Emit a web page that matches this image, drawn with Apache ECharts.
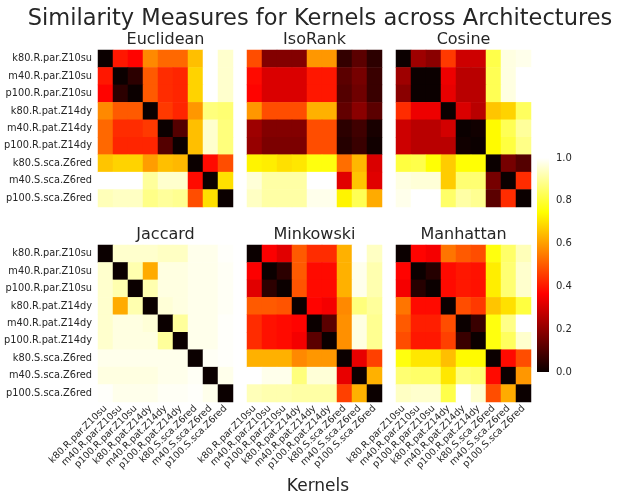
<!DOCTYPE html>
<html>
<head>
<meta charset="utf-8">
<script src="https://cdn.jsdelivr.net/npm/echarts@6/dist/echarts.min.js"></script>
<style>
  html, body { margin: 0; padding: 0; background: #fff; }
  #chart { width: 623px; height: 503px; }
</style>
</head>
<body>
<div id="chart"></div>
<script>
// kernel names, same order on both axes
const kernels = [
  'k80.R.par.Z10su', 'm40.R.par.Z10su', 'p100.R.par.Z10su',
  'k80.R.pat.Z14dy', 'm40.R.pat.Z14dy', 'p100.R.pat.Z14dy',
  'k80.S.sca.Z6red', 'm40.S.sca.Z6red', 'p100.S.sca.Z6red'
];

const euclidean = [
  [0.00, 0.40, 0.37, 0.57, 0.52, 0.52, 0.65, 1.00, 0.95],
  [0.40, 0.00, 0.05, 0.50, 0.43, 0.42, 0.68, 1.00, 0.95],
  [0.37, 0.05, 0.00, 0.50, 0.43, 0.42, 0.68, 1.00, 0.95],
  [0.57, 0.50, 0.50, 0.00, 0.45, 0.42, 0.59, 0.87, 0.86],
  [0.52, 0.43, 0.43, 0.45, 0.00, 0.11, 0.65, 0.95, 0.87],
  [0.52, 0.42, 0.42, 0.42, 0.11, 0.00, 0.65, 0.95, 0.87],
  [0.66, 0.68, 0.68, 0.60, 0.65, 0.64, 0.00, 0.38, 0.48],
  [1.00, 1.00, 1.00, 0.90, 0.95, 0.95, 0.38, 0.00, 0.70],
  [0.93, 0.94, 0.94, 0.88, 0.90, 0.89, 0.48, 0.70, 0.00]
];

const isoRank = [
  [0.48, 0.18, 0.18, 0.18, 0.59, 0.59, 0.06, 0.12, 0.05],
  [0.38, 0.31, 0.31, 0.31, 0.40, 0.40, 0.12, 0.16, 0.07],
  [0.37, 0.31, 0.31, 0.31, 0.40, 0.40, 0.11, 0.15, 0.07],
  [0.59, 0.48, 0.48, 0.48, 0.63, 0.63, 0.13, 0.19, 0.12],
  [0.22, 0.18, 0.18, 0.18, 0.48, 0.48, 0.05, 0.08, 0.02],
  [0.21, 0.17, 0.17, 0.17, 0.48, 0.48, 0.04, 0.07, 0.01],
  [0.73, 0.72, 0.70, 0.71, 0.76, 0.76, 0.53, 0.64, 0.31],
  [0.96, 0.91, 0.91, 0.91, 1.00, 1.00, 0.32, 0.66, 0.32],
  [0.94, 0.91, 0.91, 0.91, 0.98, 0.98, 0.73, 0.83, 0.62]
];

const cosine = [
  [0.00, 0.22, 0.19, 0.45, 0.29, 0.29, 0.82, 0.97, 0.98],
  [0.22, 0.00, 0.00, 0.34, 0.26, 0.26, 0.83, 0.97, 1.00],
  [0.19, 0.00, 0.00, 0.33, 0.26, 0.26, 0.83, 0.97, 1.00],
  [0.43, 0.34, 0.34, 0.00, 0.31, 0.26, 0.66, 0.68, 0.84],
  [0.29, 0.26, 0.26, 0.30, 0.00, 0.01, 0.74, 0.83, 0.90],
  [0.29, 0.26, 0.26, 0.26, 0.01, 0.00, 0.74, 0.81, 0.88],
  [0.81, 0.82, 0.75, 0.67, 0.75, 0.75, 0.00, 0.16, 0.11],
  [0.97, 0.96, 0.96, 0.67, 0.86, 0.86, 0.16, 0.00, 0.43],
  [0.98, 1.00, 1.00, 0.85, 0.91, 0.89, 0.12, 0.43, 0.00]
];

const jaccard = [
  [0.00, 0.95, 0.95, 0.95, 0.94, 0.94, 0.98, 0.98, 0.995],
  [0.95, 0.00, 0.92, 0.62, 0.97, 0.97, 0.98, 0.98, 0.99],
  [0.95, 0.92, 0.00, 0.92, 0.97, 0.97, 0.98, 0.98, 0.99],
  [0.95, 0.62, 0.92, 0.00, 0.96, 0.97, 0.98, 0.98, 0.99],
  [0.95, 0.97, 0.97, 0.96, 0.00, 0.90, 0.98, 0.98, 0.995],
  [0.95, 0.97, 0.97, 0.97, 0.90, 0.00, 0.98, 0.98, 0.995],
  [0.98, 0.98, 0.98, 0.98, 0.98, 0.98, 0.00, 0.99, 0.995],
  [0.97, 0.97, 0.97, 0.97, 0.98, 0.98, 0.99, 0.00, 0.98],
  [0.995, 0.98, 0.98, 0.98, 0.99, 0.99, 0.995, 0.98, 0.00]
];

const minkowski = [
  [0.00, 0.36, 0.32, 0.50, 0.43, 0.43, 0.63, 1.00, 0.94],
  [0.36, 0.00, 0.05, 0.50, 0.38, 0.38, 0.63, 0.98, 0.92],
  [0.32, 0.05, 0.00, 0.49, 0.38, 0.38, 0.63, 0.98, 0.92],
  [0.50, 0.50, 0.49, 0.00, 0.37, 0.35, 0.57, 0.87, 0.90],
  [0.43, 0.39, 0.38, 0.37, 0.00, 0.12, 0.58, 0.97, 0.89],
  [0.43, 0.39, 0.38, 0.35, 0.12, 0.00, 0.58, 0.97, 0.89],
  [0.63, 0.63, 0.63, 0.57, 0.59, 0.59, 0.00, 0.33, 0.46],
  [1.00, 0.98, 0.98, 0.87, 0.96, 0.96, 0.33, 0.00, 0.63],
  [0.93, 0.92, 0.92, 0.91, 0.91, 0.91, 0.46, 0.63, 0.00]
];

const manhattan = [
  [0.00, 0.37, 0.35, 0.54, 0.50, 0.48, 0.76, 0.85, 0.93],
  [0.37, 0.00, 0.04, 0.38, 0.40, 0.39, 0.72, 0.86, 0.95],
  [0.35, 0.04, 0.00, 0.38, 0.40, 0.39, 0.72, 0.86, 0.95],
  [0.54, 0.38, 0.38, 0.00, 0.48, 0.45, 0.66, 0.70, 0.81],
  [0.50, 0.41, 0.41, 0.48, 0.00, 0.07, 0.76, 0.88, 1.00],
  [0.48, 0.40, 0.40, 0.46, 0.07, 0.00, 0.76, 0.84, 0.95],
  [0.76, 0.71, 0.71, 0.65, 0.74, 0.74, 0.00, 0.38, 0.48],
  [0.86, 0.85, 0.85, 0.71, 0.87, 0.86, 0.38, 0.00, 0.59],
  [0.94, 0.95, 0.95, 0.82, 1.00, 0.95, 0.48, 0.62, 0.00]
];

const panelNames = ['Euclidean', 'IsoRank', 'Cosine', 'Jaccard', 'Minkowski', 'Manhattan'];
const panelData = [euclidean, isoRank, cosine, jaccard, minkowski, manhattan];
const colorbarTicks = [0, 0.2, 0.4, 0.6, 0.8, 1.0];

// matplotlib "hot" colormap, piecewise linear
function hot(t) {
  const r = Math.min(1, 0.0416 + t * (1 - 0.0416) / 0.365);
  const g = Math.max(0, Math.min(1, (t - 0.365) / (0.746 - 0.365)));
  const b = Math.max(0, Math.min(1, (t - 0.746) / (1 - 0.746)));
  return 'rgb(' + Math.round(r * 255) + ',' + Math.round(g * 255) + ',' + Math.round(b * 255) + ')';
}
const hotColors = [];
for (let i = 0; i <= 100; i++) hotColors.push(hot(i / 100));

const FONT = 'DejaVu Sans';
const lefts = [98, 247, 396];
const tops = [50, 245];
const PW = 135, PH = 157;

const grids = [], xAxes = [], yAxes = [], series = [], titles = [];

titles.push({
  text: 'Similarity Measures for Kernels across Architectures',
  left: 320, top: 8, textAlign: 'center', padding: 0,
  textStyle: { fontFamily: FONT, fontSize: 22.5, fontWeight: 'normal', color: '#262626' }
});
titles.push({
  text: 'Kernels',
  left: 318, top: 478, textAlign: 'center', padding: 0,
  textStyle: { fontFamily: FONT, fontSize: 17, fontWeight: 'normal', color: '#262626' }
});

panelData.forEach((mat, p) => {
  const col = p % 3, row = Math.floor(p / 3);
  grids.push({ left: lefts[col], top: tops[row], width: PW, height: PH });
  titles.push({
    text: panelNames[p],
    left: lefts[col] + PW / 2, top: tops[row] - 18, textAlign: 'center', padding: 0,
    textStyle: { fontFamily: FONT, fontSize: 16, fontWeight: 'normal', color: '#262626' }
  });
  xAxes.push({
    type: 'category', gridIndex: p, data: kernels,
    axisLine: { show: false }, axisTick: { show: false }, splitLine: { show: false },
    axisLabel: {
      show: row === 1, rotate: 45, interval: 0, margin: 5,
      fontFamily: FONT, fontSize: 9.5, color: '#262626'
    }
  });
  yAxes.push({
    type: 'category', gridIndex: p, data: kernels, inverse: true,
    axisLine: { show: false }, axisTick: { show: false }, splitLine: { show: false },
    axisLabel: {
      show: col === 0, interval: 0, margin: 6,
      fontFamily: FONT, fontSize: 9.8, color: '#262626'
    }
  });
  const data = [];
  mat.forEach((r, yi) => r.forEach((v, xi) => data.push([xi, yi, v])));
  series.push({
    type: 'heatmap', xAxisIndex: p, yAxisIndex: p, data: data,
    itemStyle: { borderWidth: 0 },
    emphasis: { disabled: true }
  });
});

// colorbar
grids.push({
  left: 537, top: 158, width: 12, height: 214, show: true, borderWidth: 0,
  backgroundColor: {
    type: 'linear', x: 0, y: 1, x2: 0, y2: 0,
    colorStops: [
      { offset: 0, color: hot(0) },
      { offset: 0.365, color: hot(0.365) },
      { offset: 0.746, color: hot(0.746) },
      { offset: 1, color: hot(1) }
    ]
  }
});
xAxes.push({ type: 'value', gridIndex: 6, show: false });
yAxes.push({
  type: 'value', gridIndex: 6, position: 'right', min: 0, max: 1, interval: 0.2,
  axisLine: { show: false }, axisTick: { show: false }, splitLine: { show: false },
  axisLabel: {
    margin: 7, fontFamily: FONT, fontSize: 10, color: '#262626',
    formatter: v => colorbarTicks.some(t => Math.abs(t - v) < 1e-6) ? v.toFixed(1) : ''
  }
});
series.push({ type: 'line', xAxisIndex: 6, yAxisIndex: 6, data: [], silent: true });

const chart = echarts.init(document.getElementById('chart'), null, { renderer: 'canvas' });
chart.setOption({
  backgroundColor: '#ffffff',
  animation: false,
  title: titles,
  grid: grids,
  xAxis: xAxes,
  yAxis: yAxes,
  visualMap: {
    show: false, type: 'continuous', min: 0, max: 1,
    seriesIndex: [0, 1, 2, 3, 4, 5],
    inRange: { color: hotColors }
  },
  series: series
});
</script>
</body>
</html>
